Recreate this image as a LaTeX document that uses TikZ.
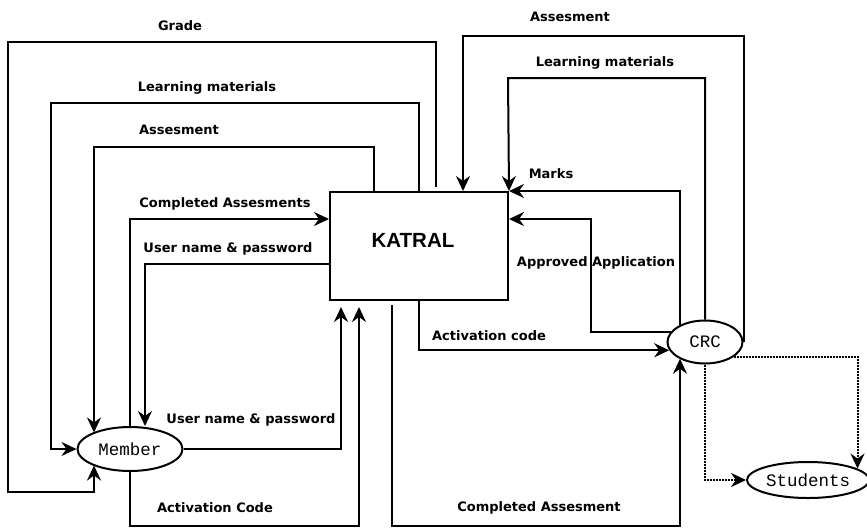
\documentclass[tikz,border=0pt]{standalone}
\usepackage{fontspec}
\setmainfont{DejaVu Sans}
\newfontfamily\monofont{Liberation Mono}
\newfontfamily\boxfont{Liberation Sans}
\usetikzlibrary{arrows.meta,shapes.geometric}

\begin{document}
\begin{tikzpicture}[x=1pt,y=-1pt,line width=2pt,
    >={Stealth[length=15pt,width=14pt,inset=5pt]},
    ext node/.style={ellipse,draw,inner sep=0pt,font=\monofont\fontsize{17.5}{20}\selectfont},
    proc node/.style={rectangle,draw,inner sep=0pt},
    flow label/.style={font=\bfseries\fontsize{13}{15}\selectfont}]
                \useasboundingbox (0,0) rectangle (867,528);

                \node[proc node,minimum width=178pt,minimum height=108pt,
                      label={[font=\boxfont\bfseries\fontsize{20.5}{24}\selectfont,xshift=-6pt,yshift=6pt]center:KATRAL}] at (419,246) (katral) {};
                \node[ext node,minimum width=105pt,minimum height=44pt] at (130,449) (member) {Member};
                \node[ext node,minimum width=75pt,minimum height=43pt] at (705,342) (crc) {CRC};
                \node[ext node,minimum width=122pt,minimum height=36pt] at (808,480) (students) {Students};

                % katral <-> member
                \draw[->,shorten <=4pt] (436,0 |- katral.north) |- (8,42) |- (94,492) -- (94,0 |- member.-156);
                \draw[->] (419,0 |- katral.north) |- (51,103) |- (member.west);
                \draw[->] (374,0 |- katral.north) |- (94,147) -- (94,0 |- member.156);
                \draw[->] (member.north) |- (katral.west |- 0,219);
                \draw[->] (katral.west |- 0,264) -| (145,0 |- member.north);
                \draw[->,shorten >=6pt] (member.east) -| (341,0 |- katral.south);
                \draw[->,shorten >=6pt] (member.south) |- (359,526) -- (359,0 |- katral.south);

                % katral <-> crc
                \draw[->,shorten <=4pt] (392,0 |- katral.south) |- (680,526) -- (680,0 |- crc.-147);
                \draw[->] (419,0 |- katral.south) |- (crc.-167);
                \draw[->] (crc.163) -| (591,219) -- (katral.east |- 0,219);
                \draw[->] (crc.146) |- (katral.north east);
                \draw[->] (crc.north) |- (508,78) -- (katral.north east);
                \draw[->] (crc.east) |- (463,36) -- (463,0 |- katral.north);

                % crc -> students
                \draw[->,densely dotted] (crc.south) |- (students.west);
                \draw[->,densely dotted] (crc.-27) -| (students.13);

                \node[flow label] at (180,26) (lgrade) {Grade};
                \node[flow label] at (207,88) (llearnl) {Learning materials};
                \node[flow label] at (179,130) (lassessl) {Assesment};
                \node[flow label] at (225,204) (lcompl) {Completed Assesments};
                \node[flow label] at (228,249) (luserin) {User name \& password};
                \node[flow label] at (251,420) (luserout) {User name \& password};
                \node[flow label] at (215,508) (lactl) {Activation Code};
                \node[flow label] at (570,17) (lassessr) {Assesment};
                \node[flow label] at (605,63) (llearnr) {Learning materials};
                \node[flow label] at (551,174) (lmarks) {Marks};
                \node[flow label] at (596,263) (lappr) {Approved Application};
                \node[flow label] at (489,336) (lactr) {Activation code};
                \node[flow label] at (539,508) (lcompr) {Completed Assesment};
            \end{tikzpicture}
\end{document}
